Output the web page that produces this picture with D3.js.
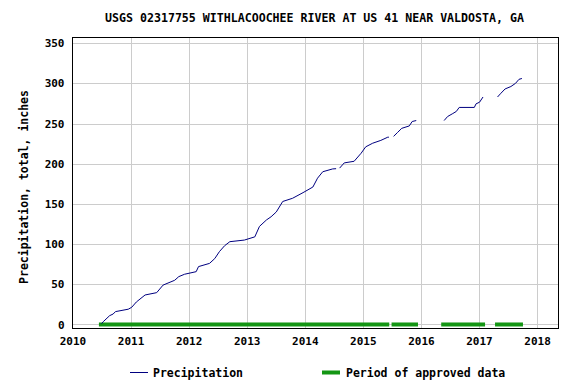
<!DOCTYPE html>
<html>
<head>
<meta charset="utf-8">
<script src="https://cdn.jsdelivr.net/npm/d3@7"></script>
<style>
    body { margin: 0; background: #fff; }
    text { font-family: "DejaVu Sans Mono", "Liberation Mono", monospace; font-weight: bold; fill: #000; }
</style>
</head>
<body>
<svg id="chart" width="576" height="384"></svg>
<script>
// precipitation, cumulative inches; null marks a break in the record
var precipYears = [2010.50, 2010.53, 2010.64, 2010.70, 2010.74, 2010.96, 2011.02, 2011.10, 2011.25, 2011.45,
    2011.56, 2011.76, 2011.83, 2011.93, 2012.13, 2012.17, 2012.36, 2012.45, 2012.53, 2012.62,
    2012.71, 2012.96, 2013.14, 2013.22, 2013.34, 2013.42, 2013.51, 2013.62, 2013.79, 2013.97,
    2014.14, 2014.22, 2014.31, 2014.48, 2014.54, null, 2014.60, 2014.68, 2014.85, 2014.97,
    2015.05, 2015.17, 2015.31, 2015.43, 2015.45, null, 2015.53, 2015.60, 2015.67, 2015.80,
    2015.85, 2015.92, null, 2016.40, 2016.46, 2016.54, 2016.61, 2016.66, 2016.92, 2016.95,
    2017.01, 2017.07, null, 2017.32, 2017.37, 2017.45, 2017.55, 2017.63, 2017.69, 2017.74];
var precipValues = [1, 3.5, 11, 13, 16, 19, 21.4, 28, 36.7, 39.6,
    49, 55, 59.5, 62.5, 65.7, 72, 76, 82, 90.6, 98,
    103, 105, 109, 122, 130, 134, 140, 153, 157, 164,
    171, 182, 190, 193.5, 193.8, null, 194.5, 201, 203, 213,
    221, 225.5, 229, 233, 233, null, 234, 239, 244, 247,
    252.5, 253.7, null, 253.7, 258.7, 262, 265, 270, 270, 274.5,
    276.5, 283, null, 283, 287, 293, 296, 300, 305, 306];

// periods of approved data
var approvedStart = [2010.455, 2015.495, 2016.35, 2017.277];
var approvedEnd = [2015.455, 2015.95, 2017.105, 2017.758];

var yearTicks = [2010, 2011, 2012, 2013, 2014, 2015, 2016, 2017, 2018];
var valueTicks = [0, 50, 100, 150, 200, 250, 300, 350];

var titleText = "USGS 02317755 WITHLACOOCHEE RIVER AT US 41 NEAR VALDOSTA, GA";
var yTitle = "Precipitation, total, inches";

var plotLeft = 72.5, plotRight = 558.5, plotTop = 37.5, plotBottom = 328.5;

var svg = d3.select("#chart");

var x = d3.scaleLinear().domain([2010, 2018.37]).range([plotLeft, plotRight]);
var y = d3.scaleLinear().domain([-5, 357]).range([plotBottom, plotTop]);

// grid
svg.append("g").selectAll("line.hgrid")
    .data(valueTicks)
    .enter().append("line")
    .attr("x1", plotLeft).attr("x2", plotRight)
    .attr("y1", d => Math.round(y(d)) + 0.5).attr("y2", d => Math.round(y(d)) + 0.5)
    .style("stroke", "#cccccc");
svg.append("g").selectAll("line.vgrid")
    .data(yearTicks.slice(1))
    .enter().append("line")
    .attr("x1", d => Math.round(x(d)) + 0.5).attr("x2", d => Math.round(x(d)) + 0.5)
    .attr("y1", plotTop).attr("y2", plotBottom)
    .style("stroke", "#cccccc");

// approved periods
var approved = approvedStart.map((s, i) => ({ start: s, end: approvedEnd[i] }));
svg.append("g").selectAll("rect")
    .data(approved)
    .enter().append("rect")
    .attr("x", d => x(d.start))
    .attr("width", d => x(d.end) - x(d.start))
    .attr("y", y(0) - 2)
    .attr("height", 4)
    .style("fill", "#149614");

// precipitation line
var pts = precipYears.map((t, i) => ({ t: t, v: precipValues[i] }));
var line = d3.line()
    .defined(d => d.t !== null && d.v !== null)
    .x(d => x(d.t))
    .y(d => y(d.v));
svg.append("path")
    .datum(pts)
    .attr("d", line)
    .style("fill", "none")
    .style("stroke", "#000080")
    .style("stroke-width", 1);

// frame
svg.append("rect")
    .attr("x", plotLeft).attr("y", plotTop)
    .attr("width", plotRight - plotLeft).attr("height", plotBottom - plotTop)
    .style("fill", "none").style("stroke", "#000");

// axes labels
var xAxis = d3.axisBottom(x).tickValues(yearTicks).tickFormat(d3.format("d")).tickSize(0).tickPadding(9);
var gx = svg.append("g").attr("transform", `translate(0,${plotBottom})`).call(xAxis);
gx.select(".domain").remove();
gx.selectAll("text").style("font-size", "11px").attr("fill", "#000");
gx.attr("font-family", null).attr("font-size", null);

var yAxis = d3.axisLeft(y).tickValues(valueTicks).tickSize(0).tickPadding(8);
var gy = svg.append("g").attr("transform", `translate(${plotLeft},0)`).call(yAxis);
gy.select(".domain").remove();
gy.selectAll("text").style("font-size", "11px").attr("fill", "#000");
gy.attr("font-family", null).attr("font-size", null);

// titles
svg.append("text")
    .attr("x", 314.5).attr("y", 22)
    .attr("text-anchor", "middle")
    .style("font-size", "11.6px")
    .text(titleText);

svg.append("text")
    .attr("transform", "translate(28,187) rotate(-90)")
    .attr("text-anchor", "middle")
    .style("font-size", "11.5px")
    .text(yTitle);

// legend
var legend = svg.append("g");
legend.append("line")
    .attr("x1", 130).attr("x2", 148)
    .attr("y1", 372.5).attr("y2", 372.5)
    .style("stroke", "#000080");
legend.append("text")
    .attr("x", 153).attr("y", 377)
    .style("font-size", "11.5px")
    .text("Precipitation");
legend.append("rect")
    .attr("x", 322).attr("y", 370.5)
    .attr("width", 18).attr("height", 4)
    .style("fill", "#149614");
legend.append("text")
    .attr("x", 346).attr("y", 377)
    .style("font-size", "11.5px")
    .text("Period of approved data");
</script>
</body>
</html>
